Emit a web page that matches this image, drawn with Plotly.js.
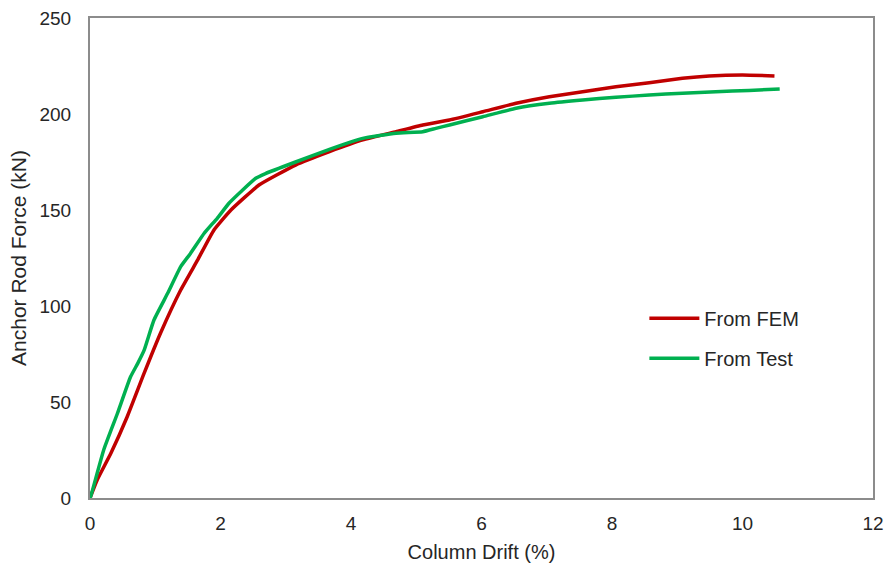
<!DOCTYPE html>
<html>
<head>
<meta charset="utf-8">
<script src="https://cdn.plot.ly/plotly-3.0.1.min.js"></script>
<style>html,body{margin:0;padding:0;background:#fff}#chart{width:887px;height:569px}</style>
</head>
<body>
<div id="chart"></div>
<script>
const femDrift = [0, 0.11, 0.32, 0.57, 0.83, 1.08, 1.39, 1.65, 1.90, 2.16, 2.59, 3.15, 3.67, 4.18, 4.69, 5.10, 5.51, 6.02, 6.53, 7.04, 7.55, 8.06, 8.57, 9.08, 9.49, 10.0, 10.49];
const femForce = [0, 9.4, 23.3, 42.3, 65, 85.8, 108.3, 124, 139.6, 150, 163, 173.4, 180.4, 186.5, 190.8, 194.3, 196.9, 201.2, 205.6, 209, 211.6, 214.2, 216.3, 218.6, 219.8, 220.3, 219.8];

const testDrift = [0, 0.01, 0.21, 0.42, 0.62, 0.73, 0.83, 0.98, 1.19, 1.39, 1.54, 1.75, 1.95, 2.13, 2.34, 2.54, 2.69, 3.15, 3.67, 4.18, 4.69, 5.10, 5.30, 5.51, 6.02, 6.53, 7.04, 7.55, 8.06, 8.57, 9.08, 9.59, 10.1, 10.57];
const testForce = [0, 0.7, 25, 44, 63, 70, 77, 92.7, 106.6, 120.5, 127.4, 137.9, 145.7, 153.5, 160.4, 166.5, 169, 175, 181.6, 187.3, 190, 190.8, 192.5, 194.3, 198.6, 203, 205.6, 207.3, 208.7, 209.9, 210.8, 211.6, 212.3, 213];

const seriesNames = ["From FEM", "From Test"];
const xTicks = [0, 2, 4, 6, 8, 10, 12];
const yTicks = [0, 50, 100, 150, 200, 250];

const fnt = "Liberation Sans, Arial, sans-serif";
const txt = "#262626";
const traces = [
  {x: femDrift, y: femForce, name: seriesNames[0], mode: "lines", legendgroup: "a",
   line: {color: "#C00000", width: 3.5, shape: "spline", smoothing: 0.4}},
  {x: testDrift, y: testForce, name: seriesNames[1], mode: "lines", legendgroup: "b",
   line: {color: "#00B050", width: 3.5, shape: "spline", smoothing: 0.4}}
];
const axisCommon = {
  showgrid: false, zeroline: false, showline: true, mirror: true,
  linecolor: "#8c8c8c", linewidth: 2, ticks: "",
  tickfont: {family: fnt, size: 19, color: txt}
};
const layout = {
  width: 887, height: 569,
  margin: {l: 90, r: 14, t: 18, b: 71},
  paper_bgcolor: "#fff", plot_bgcolor: "#fff",
  showlegend: true,
  legend: {x: 0.708, y: 0.415, xanchor: "left", yanchor: "top",
    font: {family: fnt, size: 20, color: txt},
    traceorder: "grouped", tracegroupgap: 11, itemwidth: 50, bgcolor: "rgba(0,0,0,0)"},
  xaxis: Object.assign({}, axisCommon, {range: [0, 12], tickvals: xTicks, ticklabelstandoff: 7,
    title: {text: "Column Drift (%)", font: {family: fnt, size: 20, color: txt}, standoff: 12}}),
  yaxis: Object.assign({}, axisCommon, {range: [0, 250], tickvals: yTicks, ticklabelstandoff: 13,
    title: {text: "Anchor Rod Force (kN)", font: {family: fnt, size: 21, color: txt}, standoff: 7}})
};
Plotly.newPlot("chart", traces, layout, {displayModeBar: false, staticPlot: true});
</script>
</body>
</html>
